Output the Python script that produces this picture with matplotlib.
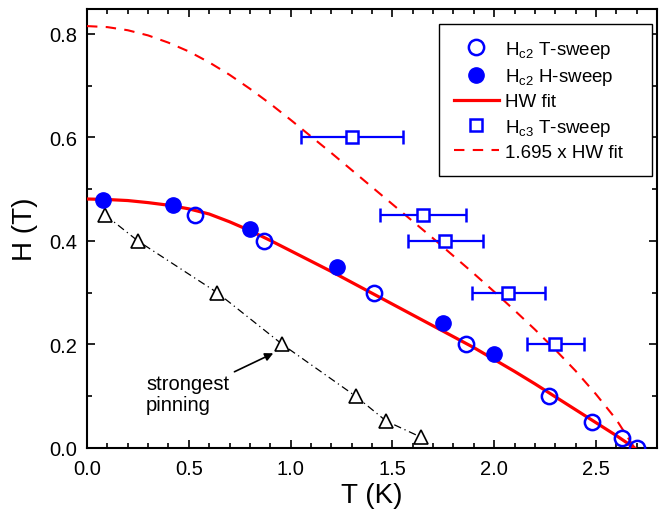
import matplotlib
matplotlib.use("Agg")
import matplotlib.pyplot as plt
from matplotlib.ticker import MultipleLocator
from matplotlib.lines import Line2D

plt.rcParams['font.family'] = ['Liberation Sans', 'DejaVu Sans']
plt.rcParams['mathtext.fontset'] = 'custom'
plt.rcParams['mathtext.rm'] = 'Liberation Sans'

# Hc2 from temperature sweeps (open circles)
t_sweep_T = [0.53, 0.87, 1.41, 1.86, 2.27, 2.48, 2.63, 2.70]
t_sweep_H = [0.45, 0.40, 0.30, 0.20, 0.10, 0.05, 0.02, 0.00]

# Hc2 from field sweeps (filled circles)
h_sweep_T = [0.08, 0.42, 0.80, 1.23, 1.75, 2.00]
h_sweep_H = [0.48, 0.47, 0.423, 0.349, 0.241, 0.182]

# Hc3 from temperature sweeps, with horizontal error bars
hc3_T = [1.30, 1.65, 1.76, 2.07, 2.30]
hc3_H = [0.60, 0.45, 0.40, 0.30, 0.20]
hc3_Terr = [0.25, 0.21, 0.185, 0.18, 0.14]

# strongest pinning (open triangles)
pin_T = [0.09, 0.25, 0.64, 0.96, 1.32, 1.47, 1.64]
pin_H = [0.45, 0.40, 0.30, 0.20, 0.10, 0.052, 0.021]

# HW fit curve
fit_T = [0.0, 0.1, 0.2, 0.3, 0.4, 0.5, 0.6, 0.7, 0.8, 0.9, 1.0, 1.1, 1.2, 1.3,
         1.4, 1.5, 1.6, 1.7, 1.8, 1.9, 2.0, 2.1, 2.2, 2.3, 2.4, 2.5, 2.6, 2.69]
fit_H = [0.481, 0.480, 0.478, 0.474, 0.469, 0.462, 0.452, 0.437, 0.420, 0.401,
         0.381, 0.361, 0.341, 0.320, 0.299, 0.278, 0.257, 0.236, 0.215, 0.194,
         0.171, 0.148, 0.124, 0.099, 0.074, 0.049, 0.024, 0.0]
# 1.695 x HW fit
fit2_H = [0.815, 0.813, 0.807, 0.797, 0.783, 0.766, 0.745, 0.721, 0.694, 0.665,
          0.634, 0.602, 0.570, 0.537, 0.504, 0.471, 0.438, 0.405, 0.371, 0.337,
          0.302, 0.266, 0.229, 0.190, 0.149, 0.104, 0.055, 0.0]

fig = plt.figure(figsize=(6.67, 5.1), dpi=100)
ax = fig.add_axes([87/667, 61/510, 570/667, 439/510])

ax.plot(fit_T, fit_H, color='red', lw=2.3, zorder=3)
ax.plot(fit_T, fit2_H, color='red', lw=1.5, ls=(0, (5, 4)), zorder=3)

ax.plot(pin_T, pin_H, color='black', lw=0.9, ls=(0, (6, 3, 1, 3)),
        marker='^', ms=10, mfc='white', mec='black', mew=1.2, zorder=4)

ax.plot(t_sweep_T, t_sweep_H, 'o', ms=11, mfc='none', mec='blue', mew=1.8, zorder=5)
ax.plot(h_sweep_T, h_sweep_H, 'o', ms=11, mfc='blue', mec='blue', zorder=5)
ax.errorbar(hc3_T, hc3_H, xerr=hc3_Terr, fmt='s', ms=9, mfc='white', mec='blue',
            mew=1.8, ecolor='blue', elinewidth=1.6, capsize=5, capthick=1.6, zorder=5)

ax.annotate('strongest\npinning', xy=(0.915, 0.183), xytext=(0.29, 0.143),
            fontsize=14.5, va='top', ha='left', linespacing=1.15,
            arrowprops=dict(arrowstyle='-|>', color='black', lw=1.2,
                            mutation_scale=12, shrinkA=2, shrinkB=0))

ax.set_xlim(0, 2.8)
ax.set_ylim(0, 0.848)
ax.xaxis.set_major_locator(MultipleLocator(0.5))
ax.xaxis.set_minor_locator(MultipleLocator(0.1))
ax.yaxis.set_major_locator(MultipleLocator(0.2))
ax.yaxis.set_minor_locator(MultipleLocator(0.1))
ax.tick_params(which='both', direction='in', top=True, right=True, width=1.2, labelsize=14.5)
ax.tick_params(which='major', length=6)
ax.tick_params(axis='x', which='major', pad=8)
ax.tick_params(axis='y', which='major', pad=7)
ax.tick_params(which='minor', length=3.5)
for s in ax.spines.values():
    s.set_linewidth(1.5)

ax.set_xlabel('T (K)', fontsize=20, labelpad=3)
ax.set_ylabel('H (T)', fontsize=20, labelpad=8)

handles = [
    Line2D([], [], ls='none', marker='o', ms=11, mfc='none', mec='blue', mew=1.8),
    Line2D([], [], ls='none', marker='o', ms=11, mfc='blue', mec='blue'),
    Line2D([], [], color='red', lw=2.3),
    Line2D([], [], ls='none', marker='s', ms=9, mfc='white', mec='blue', mew=1.8),
    Line2D([], [], color='red', lw=1.5, ls=(0, (5, 4))),
]
labels = [r'H$_{\mathregular{c2}}$ T-sweep', r'H$_{\mathregular{c2}}$ H-sweep', 'HW fit',
          r'H$_{\mathregular{c3}}$ T-sweep', '1.695 x HW fit']
leg = ax.legend(handles, labels, loc='upper left', mode='expand',
                bbox_to_anchor=(0.6175, 0.62, 0.3735, 0.346),
                borderaxespad=0, fontsize=13.5, fancybox=False, framealpha=1,
                edgecolor='black', handlelength=2.4, handletextpad=0.3,
                labelspacing=0.33, borderpad=0.8)
leg.get_frame().set_linewidth(1.0)

fig.savefig('out.png', dpi=100)
